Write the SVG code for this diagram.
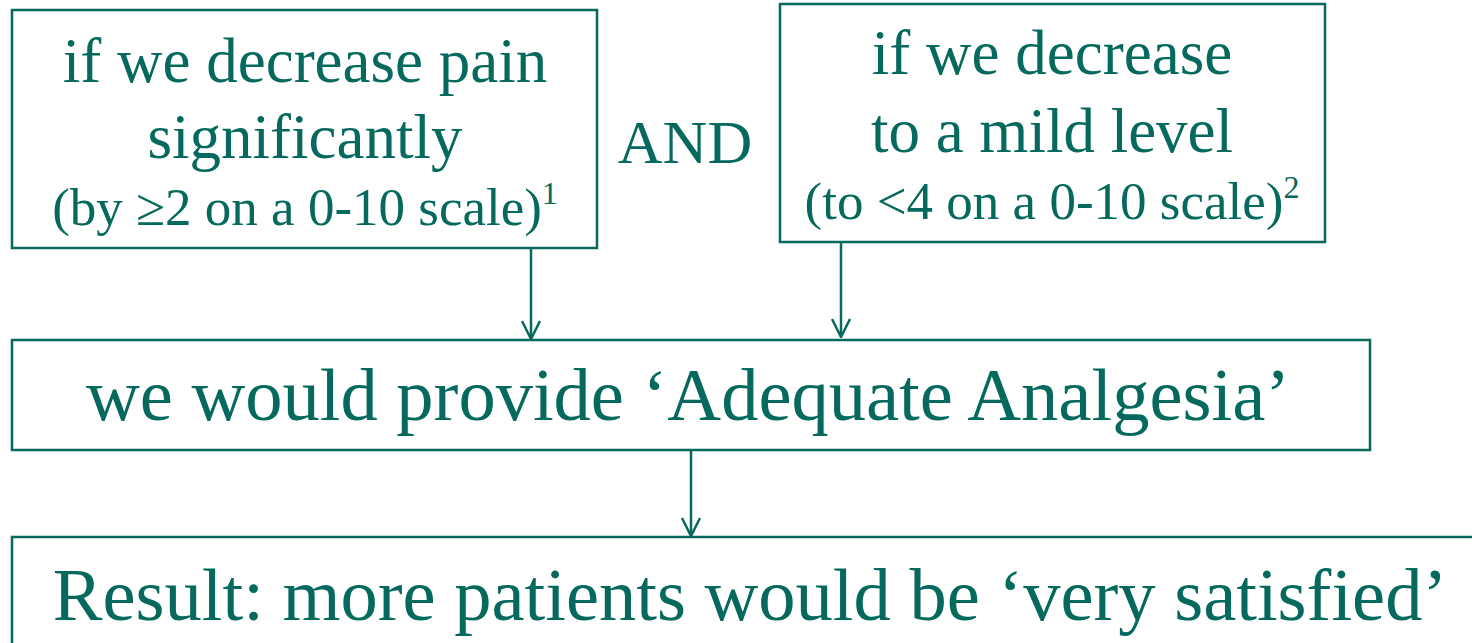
<svg xmlns="http://www.w3.org/2000/svg" width="1472" height="643" viewBox="0 0 1472 643">
<defs>
<style>
.box{fill:#ffffff;stroke:#05695d;stroke-width:2.5}
.t{font-family:"Liberation Serif","Times New Roman",serif;fill:#05695d;text-anchor:middle}
.conn{stroke:#05695d;stroke-width:2.5;fill:none}
</style>
<marker id="ah" viewBox="0 0 20 20" refX="19" refY="10" markerWidth="20" markerHeight="20" markerUnits="userSpaceOnUse" orient="auto">
<path d="M1,1 L19,10 L1,19" fill="none" stroke="#05695d" stroke-width="2.5"/>
</marker>
</defs>
<rect width="1472" height="643" fill="#ffffff"/>
<g id="box1">
<rect class="box" x="12" y="10" width="585" height="238"/>
<text class="t" x="305" y="82" font-size="63">if we decrease pain</text>
<text class="t" x="305" y="158" font-size="63">significantly</text>
<text class="t" x="305" y="225" font-size="53">(by ≥2 on a 0-10 scale)<tspan font-size="32" dy="-21">1</tspan></text>
</g>
<g id="and">
<text class="t" x="685" y="163" font-size="62">AND</text>
</g>
<g id="box2">
<rect class="box" x="780" y="4" width="545" height="238"/>
<text class="t" x="1052" y="74" font-size="63">if we decrease</text>
<text class="t" x="1052" y="152" font-size="63">to a mild level</text>
<text class="t" x="1052" y="219" font-size="53">(to &lt;4 on a 0-10 scale)<tspan font-size="32" dy="-21">2</tspan></text>
</g>
<g id="box3">
<rect class="box" x="12" y="340" width="1358" height="110"/>
<text class="t" x="688" y="420" font-size="74.5">we would provide ‘Adequate Analgesia’</text>
</g>
<g id="box4">
<rect class="box" x="12" y="537" width="1470" height="120"/>
<text class="t" x="750" y="620" font-size="74.5">Result: more patients would be ‘very satisfied’</text>
</g>
<g id="connectors">
<line class="conn" x1="531" y1="248" x2="531" y2="339" marker-end="url(#ah)"/>
<line class="conn" x1="841" y1="242" x2="841" y2="337" marker-end="url(#ah)"/>
<line class="conn" x1="691" y1="450" x2="691" y2="536" marker-end="url(#ah)"/>
</g>
</svg>
